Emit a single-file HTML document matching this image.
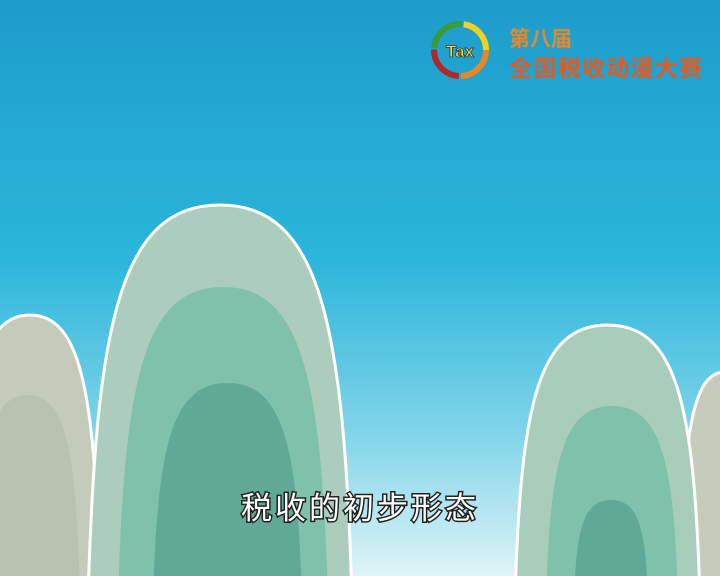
<!DOCTYPE html>
<html><head><meta charset="utf-8"><style>
html,body{margin:0;padding:0;width:720px;height:576px;overflow:hidden}
svg{display:block}
</style></head><body>
<svg id="scene" width="720" height="576" viewBox="0 0 720 576" xmlns="http://www.w3.org/2000/svg">
<defs>
<linearGradient id="sky" x1="0" y1="0" x2="0" y2="1">
<stop offset="0" stop-color="#1d9ccb"/>
<stop offset="0.45" stop-color="#2bb6db"/>
<stop offset="0.75" stop-color="#80d4e9"/>
<stop offset="1" stop-color="#dff4f6"/>
</linearGradient>
</defs>
<rect width="720" height="576" fill="url(#sky)"/>
<g id="mountains"></g>
<g>
<circle cx="460" cy="50" r="26" fill="none" stroke="#e8872a" stroke-width="6" stroke-dasharray="40 130"/>
<circle cx="460" cy="50" r="26" fill="none" stroke="#b0282a" stroke-width="6" stroke-dasharray="40 130" stroke-dashoffset="-42"/>
<circle cx="460" cy="50" r="26" fill="none" stroke="#3a9a3c" stroke-width="6" stroke-dasharray="40 130" stroke-dashoffset="-84"/>
<circle cx="460" cy="50" r="26" fill="none" stroke="#f0d020" stroke-width="6" stroke-dasharray="40 130" stroke-dashoffset="-126"/>
<text x="460" y="57" text-anchor="middle" font-family="Liberation Sans, sans-serif" font-weight="bold" font-size="17" fill="#f2e04a" stroke="#333" stroke-width="0.8">Tax</text>
</g>
<text x="509" y="46" font-family="'Liberation Sans','Noto Sans CJK SC',sans-serif" font-weight="bold" font-size="21" fill="#e8872a">第八届</text>
<text x="509" y="76" font-family="'Liberation Sans','Noto Sans CJK SC',sans-serif" font-weight="bold" font-size="23" fill="#e35a22" textLength="193">全国税收动漫大赛</text>
<text x="360" y="519" text-anchor="middle" font-family="'Liberation Sans','Noto Sans CJK SC',sans-serif" font-size="31" fill="#fff" stroke="#222" stroke-width="3" paint-order="stroke" letter-spacing="3">税收的初步形态</text>
</svg>
<script>
// [left, right, top, fill, outlined]
const arches = [
  [-40, 100, 315, "#c5cbbb", true],
  [-25, 80, 395, "#b9c2b0", false],
  [680, 770, 372, "#c6ccbc", true],
  [88, 352, 205, "#accdbd", true],
  [118, 328, 287, "#80c1ab", false],
  [153, 302, 383, "#60aa95", false],
  [515, 700, 325, "#a9cdbb", true],
  [546, 678, 406, "#80c1ab", false],
  [574, 648, 500, "#60aa95", false]
];
const g = document.getElementById('mountains');
const NS = 'http://www.w3.org/2000/svg';
function arch(L, R, T) {
  const w = R - L, H = 600 - T, c = (L + R) / 2;
  return `M${L},600 C${L + w*0.03},${T + H*0.3} ${L + w*0.12},${T} ${c},${T} C${R - w*0.12},${T} ${R - w*0.03},${T + H*0.3} ${R},600 Z`;
}
arches.forEach((a) => {
  const p = document.createElementNS(NS, 'path');
  p.setAttribute('d', arch(a[0], a[1], a[2]));
  p.setAttribute('fill', a[3]);
  if (a[4]) { p.setAttribute('stroke', '#fff'); p.setAttribute('stroke-width', '3'); }
  
  
  g.appendChild(p);
});
</script>
</body></html>
